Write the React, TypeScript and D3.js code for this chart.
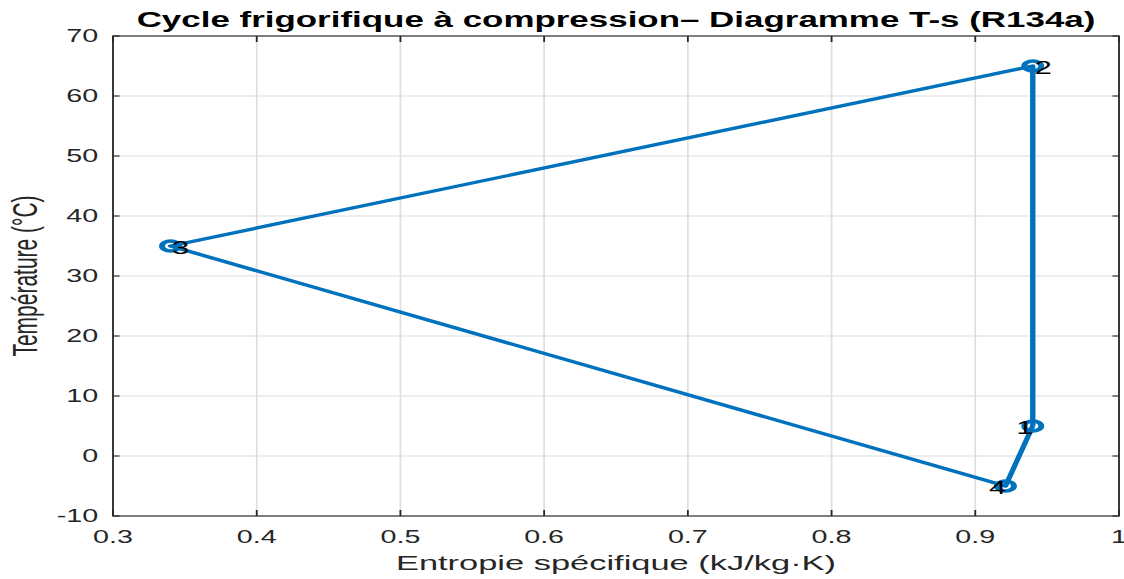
import React from 'react';
import * as d3 from 'd3';

// Cycle states (R134a)
const stateNames = ['1', '2', '3', '4'];
const entropy = [0.94, 0.94, 0.34, 0.921]; // kJ/kg.K
const temperature = [5, 65, 35, -5]; // °C
const cycleOrder = [0, 1, 2, 3, 0];

const xTicks = [0.3, 0.4, 0.5, 0.6, 0.7, 0.8, 0.9, 1];
const yTicks = [-10, 0, 10, 20, 30, 40, 50, 60, 70];

const title = 'Cycle frigorifique à compression– Diagramme T-s (R134a)';
const xLabel = 'Entropie spécifique (kJ/kg·K)';
const yLabel = 'Température (°C)';

// the figure is stretched horizontally, everything is drawn in a squeezed frame
const SX = 1.64;
const W = 1124;
const H = 579;
const blue = '#0072BD';
const axisColor = '#262626';
const font = '"Liberation Sans", Arial, Helvetica, sans-serif';

// label placement next to markers (left / right of the point)
const labelSide = ['left', 'right', 'right', 'left'];

const App = () => {
  const left = 113 / SX;
  const right = 1119 / SX;
  const top = 36;
  const bottom = 516;

  const x = d3.scaleLinear().domain([0.3, 1]).range([left, right]);
  const y = d3.scaleLinear().domain([-10, 70]).range([bottom, top]);

  const line = d3
    .line<number>()
    .x(i => x(entropy[i]))
    .y(i => y(temperature[i]));

  const tick = 6;

  return (
    <svg
      width={W}
      height={H}
      style={{ position: 'absolute', left: 0, top: 0, background: '#fff' }}
    >
      <rect width={W} height={H} fill="#fff" />
      <g transform={`scale(${SX},1)`} fontFamily={font}>
        {/* grid */}
        {xTicks.map(t => (
          <line key={'gx' + t} x1={x(t)} x2={x(t)} y1={top} y2={bottom} stroke="#dedede" strokeWidth={1} />
        ))}
        {yTicks.map(t => (
          <line key={'gy' + t} x1={left} x2={right} y1={y(t)} y2={y(t)} stroke="#dedede" strokeWidth={1} />
        ))}

        {/* cycle */}
        <path d={line(cycleOrder) || ''} fill="none" stroke={blue} strokeWidth={3.3} strokeLinejoin="round" />
        {entropy.map((s, i) => (
          <ellipse
            key={'m' + i}
            cx={x(s)}
            cy={y(temperature[i])}
            rx={5.2}
            ry={5}
            fill="none"
            stroke={blue}
            strokeWidth={3.6}
          />
        ))}
        {stateNames.map((n, i) => (
          <text
            key={'l' + i}
            x={x(entropy[i]) + (labelSide[i] === 'left' ? 0.5 : 1)}
            y={y(temperature[i]) + 8.5}
            textAnchor={labelSide[i] === 'left' ? 'end' : 'start'}
            fontSize={19}
            fill="#000"
          >
            {n}
          </text>
        ))}

        {/* axes box */}
        <rect x={left} y={top} width={right - left} height={bottom - top} fill="none" stroke={axisColor} strokeWidth={1.1} />
        {xTicks.map(t => (
          <g key={'tx' + t}>
            <line x1={x(t)} x2={x(t)} y1={bottom} y2={bottom - tick} stroke={axisColor} strokeWidth={1.1} />
            <line x1={x(t)} x2={x(t)} y1={top} y2={top + tick} stroke={axisColor} strokeWidth={1.1} />
            <text x={x(t)} y={bottom + 27} textAnchor="middle" fontSize={17.5} fill={axisColor}>
              {d3.format('~g')(t)}
            </text>
          </g>
        ))}
        {yTicks.map(t => (
          <g key={'ty' + t}>
            <line x1={left} x2={left + tick / SX * 1.1} y1={y(t)} y2={y(t)} stroke={axisColor} strokeWidth={1.1} />
            <line x1={right} x2={right - tick / SX * 1.1} y1={y(t)} y2={y(t)} stroke={axisColor} strokeWidth={1.1} />
            <text x={left - 9} y={y(t) + 6} textAnchor="end" fontSize={17.5} fill={axisColor}>
              {String(t)}
            </text>
          </g>
        ))}

        {/* labels */}
        <text x={(left + right) / 2} y={27} textAnchor="middle" fontSize={21.3} fontWeight="bold" fill="#000">
          {title}
        </text>
        <text x={(left + right) / 2} y={570} textAnchor="middle" fontSize={21} fill={axisColor}>
          {xLabel}
        </text>
        <text
          transform={`translate(${37 / SX},${(top + bottom) / 2}) rotate(-90)`}
          textAnchor="middle"
          fontSize={21}
          fill={axisColor}
        >
          {yLabel}
        </text>
      </g>
    </svg>
  );
};

export default App;
